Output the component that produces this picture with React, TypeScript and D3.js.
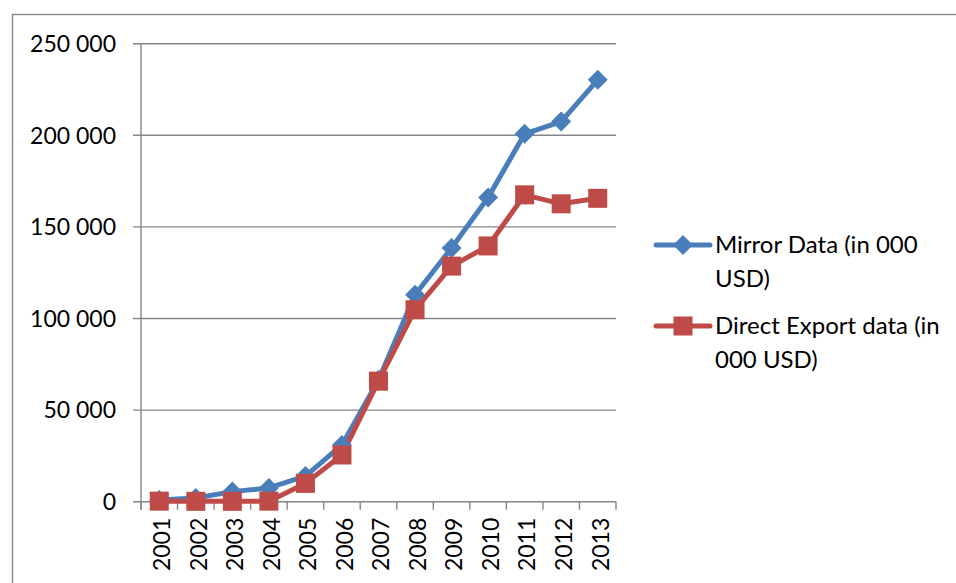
import React from 'react';
import * as d3 from 'd3';

// Chart data
const years = ['2001', '2002', '2003', '2004', '2005', '2006', '2007', '2008', '2009', '2010', '2011', '2012', '2013'];
const mirrorData = [900, 2000, 5500, 7500, 14000, 31000, 66500, 113000, 138500, 166000, 200800, 207500, 230300];
const directExport = [300, 200, 200, 300, 10000, 25500, 65800, 104800, 128600, 139600, 167500, 162600, 165600];
const yTicks = [0, 50000, 100000, 150000, 200000, 250000];
const seriesNames = ['Mirror Data (in 000|USD)', 'Direct Export data (in|000 USD)'];

// Layout
const W = 956;
const H = 583;
const plot = { left: 141, right: 616, top: 43.7, bottom: 501.7 };
const font = 'Lato, "Open Sans", sans-serif';
const gridColor = '#868686';
const blue = '#4A7EBB';
const red = '#BE4B48';

const fmt = (v: number) => d3.format(',')(v).replace(/,/g, ' ');

function Marker({ kind, x, y, color }: { kind: string; x: number; y: number; color: string }) {
    if (kind === 'diamond') {
        const r = 10;
        return <path d={`M${x},${y - r}L${x + r},${y}L${x},${y + r}L${x - r},${y}Z`} fill={color} />;
    }
    const s = 19;
    return <rect x={x - s / 2} y={y - s / 2} width={s} height={s} fill={color} />;
}

export default function App() {
    const xScale = d3.scaleBand().domain(years).range([plot.left, plot.right]);
    const yScale = d3.scaleLinear().domain([0, 250000]).range([plot.bottom, plot.top]);
    const cx = (d: string) => (xScale(d) as number) + xScale.bandwidth() / 2;

    const line = d3.line<number>()
        .x((_, i) => cx(years[i]))
        .y((d) => yScale(d));

    const series = [
        { name: seriesNames[0], values: mirrorData, color: blue, kind: 'diamond' },
        { name: seriesNames[1], values: directExport, color: red, kind: 'square' },
    ];

    const boundaries = years.map((y) => xScale(y) as number).concat([plot.right]);

    return (
        <svg width={W} height={H} style={{ position: 'absolute', left: 0, top: 0, background: '#fff' }}>
            {/* outer frame */}
            <rect x={12.5} y={14.5} width={1200} height={1200} fill="none" stroke={gridColor} strokeWidth={1.4} />

            {/* gridlines and y ticks */}
            {yTicks.map((t) => (
                <g key={t}>
                    <line x1={plot.left - 8} x2={plot.right} y1={yScale(t)} y2={yScale(t)} stroke={gridColor} strokeWidth={1.4} />
                    <text x={116} y={yScale(t)} dy="0.36em" textAnchor="end" fontFamily={font} fontSize={23} fill="#000">
                        {fmt(t)}
                    </text>
                </g>
            ))}

            {/* y axis */}
            <line x1={plot.left} x2={plot.left} y1={plot.top} y2={plot.bottom + 8} stroke={gridColor} strokeWidth={1.4} />

            {/* x ticks between categories */}
            {boundaries.map((b, i) => (
                <line key={i} x1={b} x2={b} y1={plot.bottom} y2={plot.bottom + 8} stroke={gridColor} strokeWidth={1.4} />
            ))}

            {/* x labels */}
            {years.map((y) => (
                <text
                    key={y}
                    transform={`translate(${cx(y) + 2.5},${plot.bottom + 16}) rotate(-90)`}
                    dy="0.36em"
                    textAnchor="end"
                    fontFamily={font}
                    fontSize={23}
                    fill="#000"
                >
                    {y}
                </text>
            ))}

            {/* lines */}
            {series.map((s) => (
                <path key={s.name} d={line(s.values) as string} fill="none" stroke={s.color} strokeWidth={5} strokeLinejoin="round" />
            ))}
            {series.map((s) => (
                <g key={s.name + 'm'}>
                    {s.values.map((v, i) => (
                        <Marker key={i} kind={s.kind} x={cx(years[i])} y={yScale(v)} color={s.color} />
                    ))}
                </g>
            ))}

            {/* legend */}
            {series.map((s, i) => {
                const ly = 245 + i * 81;
                const lines = s.name.split('|');
                return (
                    <g key={s.name + 'l'}>
                        <line x1={656} x2={710} y1={ly} y2={ly} stroke={s.color} strokeWidth={5} strokeLinecap="round" />
                        <Marker kind={s.kind} x={683} y={ly} color={s.color} />
                        {lines.map((t, j) => (
                            <text key={j} x={715} y={ly + 8 + j * 34} fontFamily={font} fontSize={24} fill="#000">
                                {t}
                            </text>
                        ))}
                    </g>
                );
            })}
        </svg>
    );
}
